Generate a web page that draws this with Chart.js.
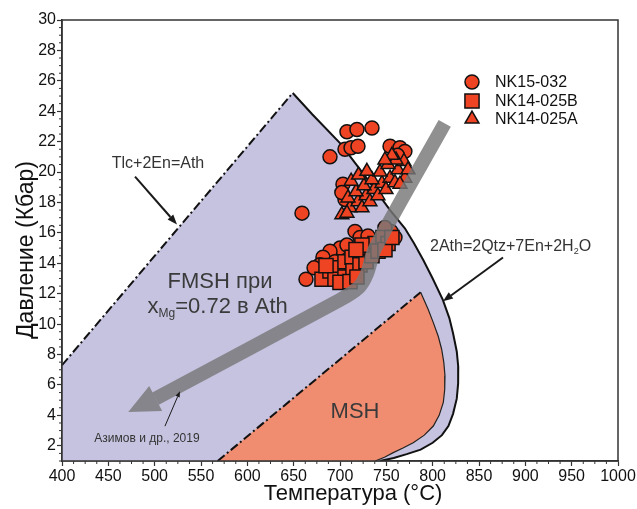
<!DOCTYPE html>
<html><head><meta charset="utf-8">
<script src="https://cdn.jsdelivr.net/npm/chart.js@4.4.1/dist/chart.umd.min.js"></script>
<style>html,body{margin:0;padding:0;background:#fff}</style>
</head><body>
<canvas id="c" width="637" height="509"></canvas>
<script>
// ---------- axis ticks ----------
const xTicks = [400,450,500,550,600,650,700,750,800,850,900,950,1000];
const yTicks = [2,4,6,8,10,12,14,16,18,20,22,24,26,28,30];
const seriesNames = ['NK15-032','NK14-025B','NK14-025A'];

// ---------- series values [T °C, P kbar] ----------
const nk15_032 = [
 [707.5,22.65],[718.3,22.8],[734.5,22.9],[689.2,21.0],[705.4,21.5],[711.9,21.6],[719.4,21.7],
 [659,17.3],[663.3,12.95],[703.2,19.2],[705.4,18.2],[702,18.65],
 [754,21.7],[764.7,21.6],[770,21.36],[762,21.1],
 [716.2,16.1],[755,16.1],[700,15.0],[689.2,14.8],[681.6,14.4],[678.4,13.9],[694.6,14.1],
 [707.5,15.2],[721.6,15.7],[730.2,15.8],[748.5,16.35],[759.3,15.7],[672,13.7],[743.2,15.5]
];
const nk14_025B = [
 [680.6,12.95],[689.2,13.5],[697.8,13.7],[705.4,14.1],[713,14.4],[721.6,14.8],[730.2,15.0],
 [737.8,15.3],[746.4,15.7],[751.8,15.3],[694.6,12.95],[705.4,13.1],[714,13.5],[721.6,13.9],
 [728.1,14.1],[734.5,14.5],[741,14.8],[684.9,13.85],[700,12.75],[710.8,12.8],[718.3,13.1],
 [748.5,14.9],[756,15.7],[723.7,15.2],[717.3,14.9]
];
const nk14_025A = [
 [702,17.2],[710.8,17.65],[719.4,18.05],[728.1,18.45],[736.7,18.85],[745.3,19.25],[754,19.6],
 [762.6,20.15],[769,20.7],[708.6,18.3],[717.3,18.7],[725.9,19.1],[734.5,19.5],[743.2,20.0],
 [751.8,20.5],[760.4,20.8],[723.7,17.65],[732.3,18.05],[740.9,18.45],[749.6,18.85],[759.3,19.3],
 [712,19.4],[720,19.8],[729,20.05],[770,19.6],[773.4,20.15],[764.7,19.2],[756,21.1],[748.5,20.8],[707.5,17.3]
];

// ---------- phase field boundaries [T, P] ----------
const tlcEnAth = [[400,7.3],[649,25.2]];                         // Tlc+2En=Ath (dashed)
const athBreakdown = [[649,25.2],[670,23.8],[700,21.9],[730,19.5],[754,17.5],[770,16.3],[780,15.3],
 [790,14.2],[800,13.0],[811,11.6],[818,10.4],[822,9.4],[826,8.2],[827.6,7.2],[827.5,6.1],[826,5.1],
 [822,4.1],[817,3.3],[810,2.7],[800,2.2],[787,1.75],[772,1.45],[758,1.2],[743,1.0]];   // 2Ath=2Qtz+7En+2H2O
const athCorners = [[400,1],[400,7.3]];
const mshLower = [[568,1],[787,12.1]];                               // MSH dashed boundary
const mshUpper = [[787,12.1],[795,11.0],[800.7,10.1],[806,9.2],[809.7,8.35],[812,7.5],[813.3,6.6],
 [813,5.7],[811.5,4.85],[807,4.0],[800.7,3.3],[791,2.7],[779,2.2],[768,1.85],[757.5,1.55],[748,1.25],[738,1.0]];

// ---------- trend arrow (Азимов и др., 2019) ----------
const trendPath = [[813,23.2],[738,15.0],[729,13.3],[720,12.4],[700,11.6],[501,5.1]];
const trendHead = [[471.5,4.22],[494.1,5.93],[508.1,4.29]];

// ---------- annotations ----------
const noteArrows = [
 {from:[478.8,19.7], to:[524.1,16.55], w:2, head:10},
 {from:[875.9,14.38], to:[811.1,11.5], w:2, head:10},
 {from:[511.1,3.29], to:[527.3,5.59], w:1, head:6}
];
const notes = [
 {parts:[['Tlc+2En=Ath']], at:[503.6,20.55], size:16, align:'center', color:'#333'},
 {parts:[['2Ath=2Qtz+7En+2H'],['2',1],['O']], at:[797.1,15.1], size:16, align:'left', color:'#333'},
 {parts:[['FMSH при']], at:[570.5,12.8], size:22, align:'center', color:'#3a3a3a'},
 {parts:[['x'],['Mg',1],['=0.72 в Ath']], at:[568,11.1], size:22, align:'center', color:'#3a3a3a'},
 {parts:[['MSH']], at:[716.2,4.2], size:22, align:'center', color:'#3a3a3a'},
 {parts:[['Азимов и др., 2019']], at:[491.7,2.44], size:12, align:'center', color:'#333'}
];

const FONT = "'Liberation Sans', Arial, sans-serif";
const RED = '#ef4423';
const LAV = '#c5c3e0';
const SALMON = '#f08c70';
const toXY = a => a.map(p => ({x:p[0], y:p[1]}));
const closed = a => toXY(a.concat([a[0]]));

const athPolygon = athCorners.concat(tlcEnAth.slice(1), athBreakdown.slice(1));
const mshPolygon = mshLower.concat(mshUpper.slice(1));

function richWidth(ctx, n){
  let w=0;
  for(const p of n.parts){ ctx.font = (p[1]? Math.round(n.size*0.55): n.size)+'px '+FONT; w+=ctx.measureText(p[0]).width; }
  return w;
}

const overlay = {
  id:'overlay',
  afterDatasetsDraw(chart){
    const ctx = chart.ctx, xs = chart.scales.x, ys = chart.scales.y, a = chart.chartArea;
    const px = v => xs.getPixelForValue(v), py = v => ys.getPixelForValue(v);
    ctx.save();
    // frame
    ctx.strokeStyle='#333'; ctx.lineWidth=1.5;
    ctx.strokeRect(a.left, a.top, a.right-a.left, a.bottom-a.top);
    // minor ticks
    ctx.lineWidth=1;
    for(let v=400; v<=1000; v+=12.5){ if(v%50===0) continue; ctx.beginPath(); ctx.moveTo(px(v),a.bottom); ctx.lineTo(px(v),a.bottom+3); ctx.stroke(); }
    for(let v=1; v<=30; v+=0.5){ if(v%2===0) continue; ctx.beginPath(); ctx.moveTo(a.left,py(v)); ctx.lineTo(a.left-3,py(v)); ctx.stroke(); }
    // annotation arrows
    ctx.strokeStyle='#1a1a1a'; ctx.fillStyle='#1a1a1a';
    for(const ar of noteArrows){
      const x0=px(ar.from[0]), y0=py(ar.from[1]), x1=px(ar.to[0]), y1=py(ar.to[1]);
      const ang=Math.atan2(y1-y0,x1-x0), h=ar.head, hw=h*0.38;
      const bx=x1-Math.cos(ang)*h, by=y1-Math.sin(ang)*h;
      ctx.lineWidth=ar.w; ctx.beginPath(); ctx.moveTo(x0,y0); ctx.lineTo(bx,by); ctx.stroke();
      ctx.beginPath(); ctx.moveTo(x1,y1);
      ctx.lineTo(bx+Math.sin(ang)*hw, by-Math.cos(ang)*hw);
      ctx.lineTo(bx-Math.sin(ang)*hw, by+Math.cos(ang)*hw);
      ctx.closePath(); ctx.fill();
    }
    // texts
    ctx.textBaseline='middle';
    for(const n of notes){
      const w = richWidth(ctx,n);
      let x = px(n.at[0]) - (n.align==='center'? w/2 : 0);
      const y = py(n.at[1]);
      ctx.fillStyle=n.color; ctx.textAlign='left';
      for(const p of n.parts){
        const s = p[1]? Math.round(n.size*0.55): n.size;
        ctx.font = s+'px '+FONT;
        ctx.fillText(p[0], x, p[1]? y+n.size*0.3 : y);
        x += ctx.measureText(p[0]).width;
      }
    }
    // legend
    const styles=['circle','rect','triangle'], radii=[7,10,8];
    const lx=472, ly=[82,101,119];
    for(let i=0;i<3;i++){
      ctx.fillStyle=RED; ctx.strokeStyle='#111'; ctx.lineWidth=1.5;
      Chart.helpers.drawPoint(ctx,{pointStyle:styles[i], radius:radii[i], borderWidth:1.5, rotation:0}, lx, ly[i]);
      ctx.fillStyle='#111'; ctx.font='16px '+FONT; ctx.textAlign='left';
      ctx.fillText(seriesNames[i], 495, ly[i]+1);
    }
    // axis titles
    ctx.fillStyle='#111'; ctx.textAlign='center';
    ctx.font='22px '+FONT;
    ctx.fillText('Температура (°C)', 353, 494);
    ctx.save(); ctx.translate(27,250); ctx.rotate(-Math.PI/2);
    ctx.font='23px '+FONT; ctx.fillText('Давление (Кбар)', 0, 0); ctx.restore();
    ctx.restore();
  }
};

const lineBase = {type:'line', showLine:true, pointRadius:0, fill:false, tension:0};
new Chart(document.getElementById('c'), {
  type:'scatter',
  data:{ datasets:[
    Object.assign({}, lineBase, {label:'Ath field', data:closed(athPolygon), fill:'shape', backgroundColor:LAV, borderWidth:0, borderColor:'transparent', order:20}),
    Object.assign({}, lineBase, {label:'MSH field', data:closed(mshPolygon), fill:'shape', backgroundColor:SALMON, borderWidth:0, borderColor:'transparent', order:19}),
    Object.assign({}, lineBase, {label:'Tlc+2En=Ath', data:toXY(tlcEnAth), borderColor:'#111', borderWidth:2, borderDash:[9,3,2,3], order:18}),
    Object.assign({}, lineBase, {label:'2Ath=2Qtz+7En+2H2O', data:toXY(athBreakdown), borderColor:'#111', borderWidth:2, order:17}),
    Object.assign({}, lineBase, {label:'MSH lower', data:toXY(mshLower), borderColor:'#111', borderWidth:2, borderDash:[9,3,2,3], order:16}),
    Object.assign({}, lineBase, {label:'MSH upper', data:toXY(mshUpper), borderColor:'#222', borderWidth:1.2, order:15}),
    {label:seriesNames[0], data:toXY(nk15_032), pointStyle:'circle', pointRadius:7, backgroundColor:RED, borderColor:'#111', borderWidth:1.5, order:12},
    {label:seriesNames[1], data:toXY(nk14_025B), pointStyle:'rect', pointRadius:10, backgroundColor:RED, borderColor:'#111', borderWidth:1.5, order:11},
    {label:seriesNames[2], data:toXY(nk14_025A), pointStyle:'triangle', pointRadius:8, backgroundColor:RED, borderColor:'#111', borderWidth:1.5, order:10},
    Object.assign({}, lineBase, {label:'trend', data:toXY(trendPath), borderColor:'rgba(120,120,120,0.82)', borderWidth:14, tension:0.3, borderCapStyle:'butt', borderJoinStyle:'round', order:5}),
    Object.assign({}, lineBase, {label:'trend head', data:closed(trendHead), fill:'shape', backgroundColor:'rgba(120,120,120,0.82)', borderWidth:0, borderColor:'transparent', order:4})
  ]},
  options:{
    responsive:false, animation:false, events:[],
    layout:{padding:{top:20,right:19,left:0,bottom:0}},
    plugins:{legend:{display:false}, tooltip:{enabled:false}},
    scales:{
      x:{type:'linear', min:400, max:1000,
         afterFit(s){ s.height=48; },
         afterBuildTicks(s){ s.ticks = xTicks.map(v=>({value:v})); },
         grid:{drawOnChartArea:false, drawTicks:true, tickLength:5, tickColor:'#333', tickWidth:1.2},
         border:{display:true, color:'#333', width:1.5},
         ticks:{font:{family:FONT, size:16}, color:'#111', padding:1, maxRotation:0, autoSkip:false, callback:v=>String(v)}},
      y:{type:'linear', min:1, max:30,
         afterFit(s){ s.width=62; },
         afterBuildTicks(s){ s.ticks = yTicks.map(v=>({value:v})); },
         grid:{drawOnChartArea:false, drawTicks:true, tickLength:5, tickColor:'#333', tickWidth:1.2},
         border:{display:true, color:'#333', width:1.5},
         ticks:{font:{family:FONT, size:16}, color:'#111', padding:1, autoSkip:false, callback:v=>String(v)}}
    }
  },
  plugins:[overlay]
});
</script>
</body></html>
